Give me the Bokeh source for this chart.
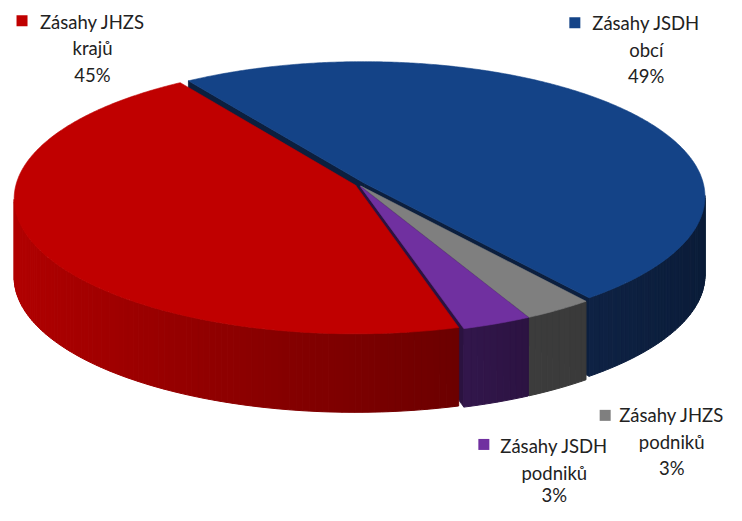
import numpy as np
from bokeh.plotting import figure
from bokeh.models import Range1d
from bokeh.core.properties import value
from bokeh.embed import file_html
from bokeh.resources import INLINE

# ---------------- data ----------------
categories = ["Zásahy JSDH obcí", "Zásahy JHZS podniků", "Zásahy JSDH podniků", "Zásahy JHZS krajů"]
label_line1 = ["Zásahy JSDH", "Zásahy JHZS", "Zásahy JSDH", "Zásahy JHZS"]
label_line2 = ["obcí", "podniků", "podniků", "krajů"]
shares = [49, 3, 3, 45]          # percent

# ---------------- style ----------------
top_colors = ["#144387", "#7F7F7F", "#7030A0", "#C00000"]
side_colors = [("#0E2244", "#0B1C38"), ("#3C3C3C", "#3A3A3A"),
               ("#32164B", "#2C1342"), ("#B20000", "#6C0000")]
radial_colors = ["#0C1F3E", "#3A3A3A", "#2B1240", "#7A0000"]
explode = [0.02, 0.012, 0.012, 0.01]
# label layout (reference px): marker centre, text centre x, line y's
label_layout = [
    dict(mx=587, my=23, tx=660, ty=(23, 51, 78)),
    dict(mx=618, my=428, tx=686, ty=(428, 455, 482)),
    dict(mx=494, my=458, tx=566, ty=(460, 487, 510)),
    dict(mx=22, my=21, tx=94, ty=(22, 49, 77)),
]

W, H = 742, 521
CX, CY = 366.0, 190.0      # projected pie centre (px)
A, B = 347.0, 138.0        # radii of the projection
K = 0.099                  # perspective factor
DEPTH = 81.0               # thickness (px)
START = 124.0              # start angle (deg), clockwise


def proj(u, v, z=0.0):
    u = np.asarray(u, float)
    v = np.asarray(v, float)
    d = 1.0 + K * v
    X = CX + A * u / d
    Ys = CY - B * v / d + z
    return X, H - Ys


def hex2rgb(h):
    h = h.lstrip("#")
    return np.array([int(h[i:i + 2], 16) for i in (0, 2, 4)], float)


def mix(c1, c2, t):
    c = hex2rgb(c1) * (1 - t) + hex2rgb(c2) * t
    return "#%02x%02x%02x" % tuple(int(round(x)) for x in c)


p = figure(width=W - 16, height=H - 16, x_range=Range1d(0, W), y_range=Range1d(0, H),
           output_backend="svg", toolbar_location=None, min_border=0)
p.axis.visible = False
p.grid.visible = False
p.outline_line_color = None
p.background_fill_color = "white"

total = float(sum(shares))
slices = []
t = START
for i, s in enumerate(shares):
    span = 360.0 * s / total
    t0, t1 = t, t - span
    mid = np.radians((t0 + t1) / 2)
    off = (explode[i] * np.cos(mid), explode[i] * np.sin(mid))
    slices.append((i, t0, t1, off))
    t = t1

radial_polys = []
outer_xs, outer_ys, outer_c = [], [], []
top_xs, top_ys, top_c = [], [], []
cam = (0.0, -1.0 / K)

for i, t0, t1, (ou, ov) in slices:
    n = max(6, int(abs(t0 - t1) / 0.5))
    ang = np.radians(np.linspace(t0, t1, n))
    us = np.concatenate([[ou], ou + np.cos(ang)])
    vs = np.concatenate([[ov], ov + np.sin(ang)])
    X, Y = proj(us, vs)
    top_xs.append(list(X)); top_ys.append(list(Y)); top_c.append(top_colors[i])

    for edge, sign in ((t0, 1), (t1, -1)):
        a = np.radians(edge)
        nu, nv = (-np.sin(a) * sign, np.cos(a) * sign)
        pu, pv = ou + 0.5 * np.cos(a), ov + 0.5 * np.sin(a)
        if nu * (cam[0] - pu) + nv * (cam[1] - pv) > 0:
            uu = [ou, ou + np.cos(a), ou + np.cos(a), ou]
            vv = [ov, ov + np.sin(a), ov + np.sin(a), ov]
            X, Y = proj(uu, vv, np.array([0, 0, DEPTH, DEPTH]))
            radial_polys.append((ov + 0.5 * np.sin(a), list(X), list(Y), radial_colors[i]))

    ang = np.linspace(t0, t1, max(3, int(abs(t0 - t1) / 1.0) + 1))
    segs = []
    for a0, a1 in zip(ang[:-1], ang[1:]):
        am = np.radians((a0 + a1) / 2)
        pu, pv = ou + np.cos(am), ov + np.sin(am)
        if np.cos(am) * (cam[0] - pu) + np.sin(am) * (cam[1] - pv) > 0:
            segs.append((a0, a1))
    if segs:
        umin = min(np.cos(np.radians(x)) for sg in segs for x in sg)
        umax = max(np.cos(np.radians(x)) for sg in segs for x in sg)
        for a0, a1 in segs:
            r0, r1 = np.radians(a0), np.radians(a1)
            uu = [ou + np.cos(r0), ou + np.cos(r1), ou + np.cos(r1), ou + np.cos(r0)]
            vv = [ov + np.sin(r0), ov + np.sin(r1), ov + np.sin(r1), ov + np.sin(r0)]
            X, Y = proj(uu, vv, np.array([0, 0, DEPTH, DEPTH]))
            um = np.cos((r0 + r1) / 2)
            tt = 0.0 if umax - umin < 1e-9 else (um - umin) / (umax - umin)
            outer_xs.append(list(X)); outer_ys.append(list(Y))
            outer_c.append(mix(side_colors[i][0], side_colors[i][1], tt))

radial_polys.sort(key=lambda r: -r[0])
if radial_polys:
    p.patches(xs=[r[1] for r in radial_polys], ys=[r[2] for r in radial_polys],
              fill_color=[r[3] for r in radial_polys], line_color=[r[3] for r in radial_polys],
              line_width=0.8)
p.patches(xs=outer_xs, ys=outer_ys, fill_color=outer_c, line_color=outer_c, line_width=1)
p.patches(xs=top_xs, ys=top_ys, fill_color=top_c, line_color=top_c, line_width=0.6)

FONT = value("Lato")
for i, lay in enumerate(label_layout):
    p.scatter(x=[lay["mx"]], y=[H - lay["my"]], marker="square", size=11,
              fill_color=top_colors[i], line_color=None)
    lines = [label_line1[i], label_line2[i], "%d%%" % shares[i]]
    for txt, yy in zip(lines, lay["ty"]):
        p.text(x=[lay["tx"]], y=[H - yy], text=[txt], text_font=FONT, text_font_size="18.5px",
               text_color="#222222", text_align="center", text_baseline="middle")

open("out.html", "w").write(file_html(p, INLINE))
